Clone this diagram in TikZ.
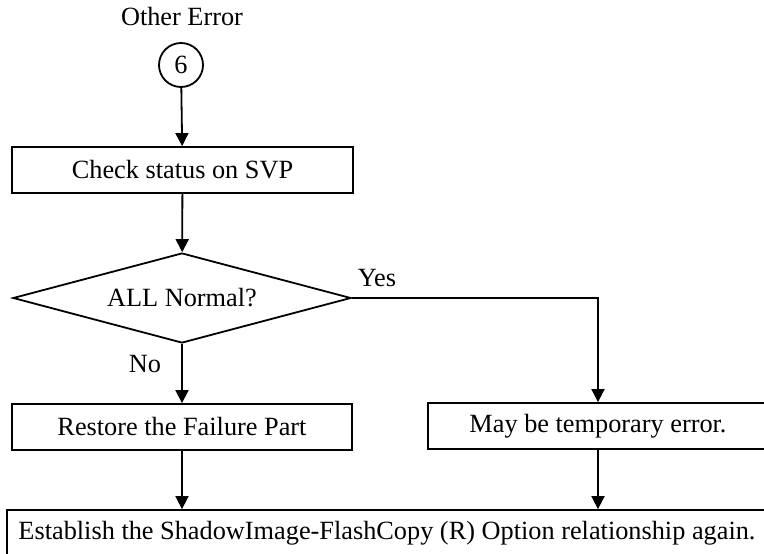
\documentclass[tikz,border=0pt]{standalone}
\usepackage{fontspec}
\setmainfont{Liberation Serif}
\usetikzlibrary{shapes.geometric,arrows.meta}
\begin{document}
\begin{tikzpicture}[x=1pt,y=-1pt,
  every node/.style={font=\fontsize{26.3}{30}\selectfont, inner sep=0pt},
  box/.style={draw, line width=1.8pt, rectangle, minimum height=46pt},
  conn/.style={line width=1.8pt, -{Triangle[length=13pt,width=13pt]}},
  plain/.style={line width=1.8pt}]
\useasboundingbox (0,0) rectangle (764,554);
\clip (0,0) rectangle (764,554);
\node (other) at (182,17) {Other Error};
\node[draw, circle, line width=1.8pt, minimum size=44pt] (c6) at (181,65) {6};
\node[box, minimum width=341pt] (check) at (182.5,170) {Check status on SVP};
\node[draw, diamond, line width=1.8pt, aspect=3.75, minimum width=338pt, minimum height=90pt] (dec) at (182,298) {ALL Normal?};
\node[box, minimum width=340pt] (restore) at (182,427) {Restore the Failure Part};
\node[box, minimum width=340pt] (temp) at (598,426) {May be temporary error.};
\node[box, minimum width=760pt] (final) at (387,533) {Establish the ShadowImage-FlashCopy (R) Option relationship again.};
\node (yes) at (377,278) {Yes};
\node (no) at (145,364) {No};
\draw[conn] (c6) -- (check);
\draw[conn] (check) -- (dec);
\draw[conn] (dec.south) -- (restore.north);
\draw[conn] (dec.east) -| (temp.north);
\draw[conn] (restore.south) -- (restore.south |- final.north);
\draw[conn] (temp.south) -- (temp.south |- final.north);
\end{tikzpicture}
\end{document}
